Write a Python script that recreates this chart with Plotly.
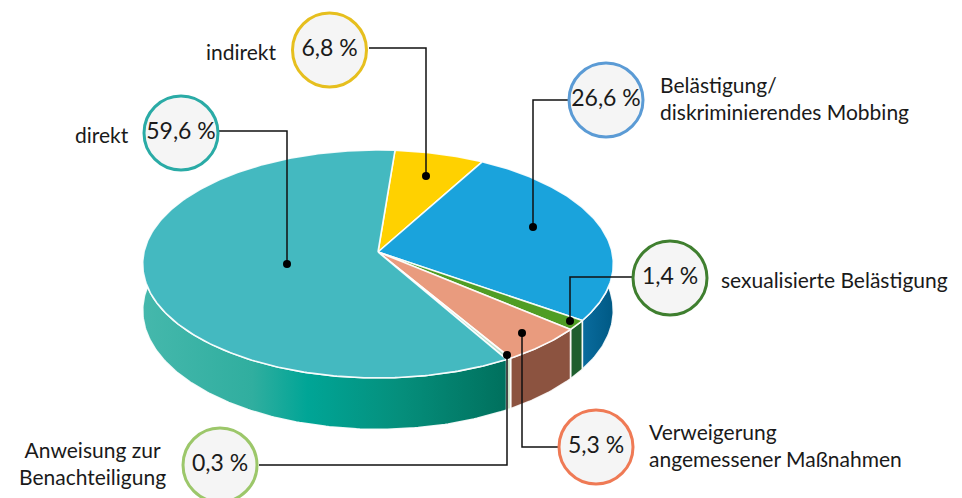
import math
import plotly.graph_objects as go

# ---- data (clockwise from the yellow slice) ----
categories = ["indirekt", "Belästigung/<br>diskriminierendes Mobbing", "sexualisierte Belästigung",
              "Verweigerung<br>angemessener Maßnahmen", "Anweisung zur<br>Benachteiligung", "direkt"]
values = [6.8, 26.6, 1.4, 5.3, 0.3, 59.6]

# ---- styles ----
top_colors = ["#FFD100", "#1AA3DC", "#4F9D24", "#E99B7E", "#BFE3D0", "#44B9C0"]
wall_colors = [None, "#03618F", "#1E5E2E", "#8C5340", "#CFE5C8", None]
ring_colors = ["#E6BF1E", "#5B9BD5", "#3F7F2F", "#EF7A55", "#9CC76A", "#2AABA6"]
FONT = "Lato"
TXT = "#1a1a1a"

# ---- projection of the pie (tilted disc) ----
CX, CY = 378.0, 252.0
BX, BY, K = 234.0, 112.7, 0.105
DEPTH = 46.0
START = 4.6


def rim(theta, drop=0.0):
    t = math.radians(theta)
    u, v = math.sin(t), -math.cos(t)
    d = 1 - K * v
    return CX + BX * u / d, CY + (BY * v + drop) / d


def arc(a, b, drop=0.0):
    n = max(2, int(abs(b - a) / 0.75))
    return [rim(a + (b - a) * i / n, drop) for i in range(n + 1)]


# ---- callout layout (pixel space) ----
bubbles = [(329.5, 50), (606, 100), (670, 278), (596, 447), (220, 465), (181, 133)]
leaders = [
    ([369, 426, 426], [48, 48, 176]),
    ([568, 533, 533], [100, 100, 227]),
    ([632, 570, 570], [277, 277, 321]),
    ([558, 522, 522], [447, 447, 333]),
    ([259, 507, 507], [465, 465, 355]),
    ([219, 287, 287], [131, 131, 264]),
]
label_pos = [(279, 51, "right"), (658, 98, "left"), (719, 279, "left"),
             (647, 445, "left"), (168, 463, "center"), (131, 134, "right")]

fig = go.Figure()

# wedge angles from the values
total = sum(values)
angles = []
a = START
for val in values:
    b = a + val / total * 360
    angles.append((a, b))
    a = b

# side walls
for i, (a, b) in enumerate(angles):
    lo, hi = max(a, 84), min(b, 276)
    if lo >= hi:
        continue
    upper = arc(lo, hi)
    lower = arc(hi, lo, DEPTH)
    pts = upper + lower + [upper[0]]
    kw = dict(fillcolor=wall_colors[i]) if wall_colors[i] else {}
    if categories[i] == "direkt":
        kw = dict(fillgradient=dict(
            type="horizontal", start=142, stop=510,
            colorscale=[[0, "#45B8AC"], [0.3, "#30AE9F"], [0.45, "#00A596"],
                        [0.7, "#058F7C"], [1, "#006F5C"]]))
    if i == 1:
        kw = dict(fillgradient=dict(
            type="horizontal", start=582, stop=612,
            colorscale=[[0, "#0A6C9E"], [1, "#005A86"]]))
    fig.add_trace(go.Scatter(x=[p[0] for p in pts], y=[p[1] for p in pts], mode="lines",
                             fill="toself", line=dict(color="rgba(255,255,255,0.9)", width=1.6),
                             hoverinfo="skip", showlegend=False, **kw))

# top face
for i, (a, b) in enumerate(angles):
    pts = [(CX, CY)] + arc(a, b) + [(CX, CY)]
    fig.add_trace(go.Scatter(x=[p[0] for p in pts], y=[p[1] for p in pts], mode="lines",
                             fill="toself", fillcolor=top_colors[i],
                             line=dict(color="rgba(255,255,255,0.9)", width=1.6),
                             hoverinfo="skip", showlegend=False))

# leaders and anchor dots
for (lx, ly) in leaders:
    fig.add_trace(go.Scatter(x=lx, y=ly, mode="lines", line=dict(color="#111111", width=1.5),
                             hoverinfo="skip", showlegend=False))
fig.add_trace(go.Scatter(x=[l[0][-1] for l in leaders], y=[l[1][-1] for l in leaders], mode="markers",
                         marker=dict(color="black", size=8), hoverinfo="skip", showlegend=False))

# bubbles with the percentages
fig.add_trace(go.Scatter(
    x=[p[0] for p in bubbles], y=[p[1] for p in bubbles], mode="markers+text",
    marker=dict(size=74, color="#F5F5F5", line=dict(color=ring_colors, width=3)),
    text=[f"{v:.1f}".replace(".", ",") + " %" for v in values],
    textposition="middle center", textfont=dict(family=FONT, size=23, color=TXT),
    hoverinfo="skip", showlegend=False, cliponaxis=False))

# category labels
anchors = {"left": "left", "right": "right", "center": "right"}
for cat, (x, y, al) in zip(categories, label_pos):
    fig.add_annotation(x=x, y=y, xref="x", yref="y", text=cat, showarrow=False,
                       xanchor=anchors[al], yanchor="middle",
                       align=al, font=dict(family=FONT, size=21, color=TXT))

fig.update_layout(
    width=962, height=498, margin=dict(l=0, r=0, t=0, b=0),
    paper_bgcolor="white", plot_bgcolor="white",
    xaxis=dict(range=[0, 962], visible=False, fixedrange=True),
    yaxis=dict(range=[498, 0], visible=False, fixedrange=True),
)
fig.write_html("out.html", config={"displayModeBar": False},
               post_script="document.body.style.margin='0';")
